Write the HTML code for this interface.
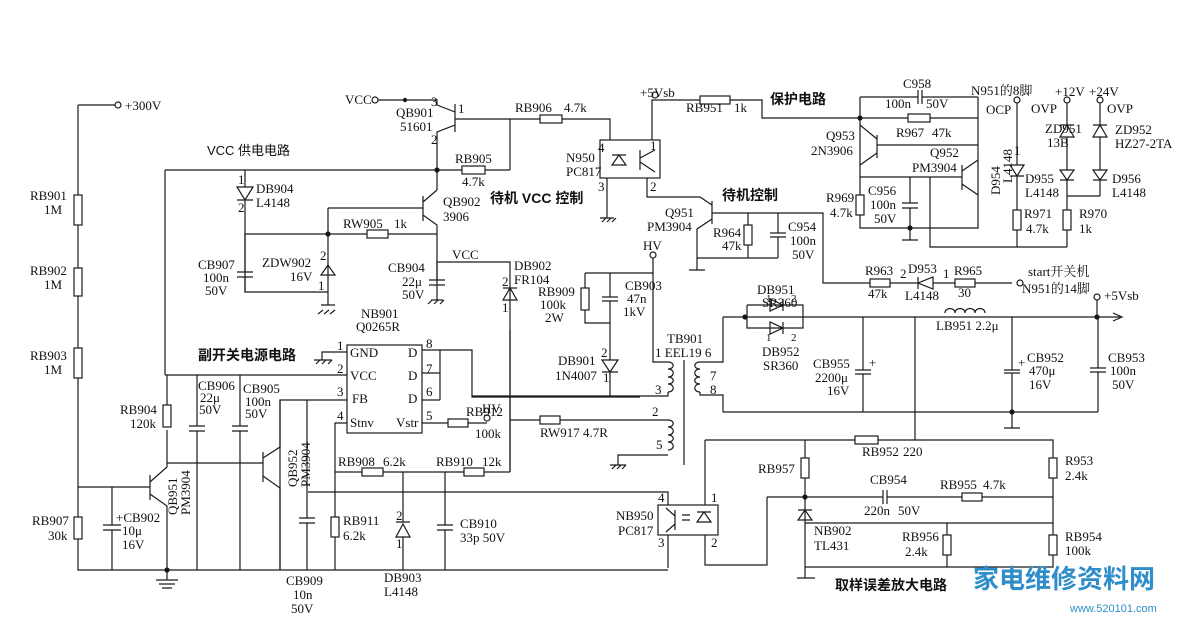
<!DOCTYPE html>
<html><head><meta charset="utf-8"><style>
html,body{margin:0;padding:0;background:#fff}
svg{display:block}
text{font-family:"Liberation Serif","Noto Serif CJK SC",serif;font-size:13px;fill:#111}
.c{font-family:"Liberation Sans","Noto Sans CJK SC",sans-serif;font-size:13px}
.b{font-family:"Liberation Sans","Noto Sans CJK SC",sans-serif;font-size:14px;font-weight:bold}
</style></head><body>
<svg width="1190" height="640" viewBox="0 0 1190 640" xmlns="http://www.w3.org/2000/svg">
<g stroke="#1a1a1a" stroke-width="1.2" fill="none">
<path d="M78 105H115M78 105V570H668M78 487H150"/>
<circle cx="118" cy="105" r="3"/>
<rect x="74" y="195" width="8" height="30" fill="#fff"/>
<rect x="74" y="268" width="8" height="28" fill="#fff"/>
<rect x="74" y="348" width="8" height="30" fill="#fff"/>
<rect x="74" y="517" width="8" height="22" fill="#fff"/>
<path d="M112 487V525M103 525H121M103 530H121M112 530V570"/>
<path d="M150 475V500M150 482L167 467V465M150 494L167 506V570"/>
<path d="M167 465V430M167 405V375"/>
<rect x="163" y="405" width="8" height="22" fill="#fff"/>
<path d="M165 170V375M165 375H347M167 463H263"/>
<path d="M156 580H178M159 584H175M162 588H172M167 570V580"/>
<circle cx="167" cy="570" r="2" fill="#111"/>
<path d="M165 170H510M245 170V187M237 187H253L245 200ZM237 200H253M245 200V292H328"/>
<path d="M245 234V272M237 272H253M237 277H253M245 277V292"/>
<path d="M328 208V305M321 275H335M328 265L321 275H335ZM321 305H335M323 310L318 314M329 310L324 314M335 310L330 314"/>
<path d="M245 234H367M388 234H437"/>
<rect x="367" y="230" width="21" height="8" fill="#fff"/>
<circle cx="328" cy="234" r="2" fill="#111"/>
<path d="M378 100H437V105L455 112M455 104V132M455 119H540M562 119H610V148M455 125L437 132V190"/>
<circle cx="375" cy="100" r="3"/><circle cx="405" cy="100" r="1.6" fill="#111"/>
<rect x="540" y="115" width="22" height="8" fill="#fff"/>
<path d="M510 119V170"/>
<rect x="462" y="166" width="23" height="8" fill="#fff"/>
<circle cx="437" cy="170" r="2" fill="#111"/>
<path d="M328 208H423M423 196V221M423 202L437 190M423 215L437 225V300M431 300H443M428 304L432 300M434 304L438 300M440 304L444 300"/>
<path d="M437 262V280M429 280H445M429 285H445"/>
<path d="M437 262H510V472M503 300H517L510 288ZM503 288H517"/>
<rect x="347" y="345" width="75" height="88" fill="#fff"/>
<path d="M347 352H322V360M314 360H332M316 364L320 360M322 364L326 360M328 364L332 360"/>
<path d="M347 400H280V570M307 400V518M299 518H315M299 523H315M307 523V570M347 423H335V517M335 537V570"/>
<rect x="331" y="517" width="8" height="20" fill="#fff"/>
<path d="M422 350H472V397H640M422 373H440M422 400H440M440 350V400M422 423H448M468 423H487"/>
<rect x="448" y="419" width="20" height="8" fill="#fff"/>
<circle cx="487" cy="418" r="3"/>
<path d="M197 375V426M189 426H205M189 431H205M197 431V570M240 375V426M232 426H248M232 431H248M240 431V570"/>
<path d="M263 452V482M263 458L280 447V400M263 476L280 488V570"/>
<path d="M335 472H362M383 472H464M484 472H510"/>
<rect x="362" y="468" width="21" height="8" fill="#fff"/>
<rect x="464" y="468" width="20" height="8" fill="#fff"/>
<path d="M403 472V522M396 537H410L403 524ZM396 522H410M403 537V570"/>
<path d="M445 472V525M437 525H453M437 530H453M445 530V570"/>
<path d="M308 492H668V505"/>
<rect x="600" y="140" width="60" height="38" fill="#fff"/>
<path d="M612 155H626M619 155L612 165H626Z"/>
<path d="M640 150V170M640 158L655 150M640 162L655 172"/>
<path d="M607 178V218M600 218H614M602 222L606 218M607 222L611 218M612 222L616 218"/>
<path d="M652 140V100H700M730 100H762V118H860"/>
<rect x="700" y="96" width="30" height="8" fill="#fff"/>
<circle cx="655" cy="95" r="3"/>
<path d="M647 178V197H700L712 205M712 201V224M712 213H823V283H870M712 219L697 229V270M689 270H705M697 258H778"/>
<path d="M748 213V225M748 245V258M778 213V233M770 233H786M770 237H786M778 237V258"/>
<rect x="744" y="225" width="8" height="20" fill="#fff"/>
<path d="M890 283H918M918 277V289M933 277V289L918 283ZM933 283H955M975 283H1012"/>
<rect x="870" y="279" width="20" height="8" fill="#fff"/>
<rect x="955" y="279" width="20" height="8" fill="#fff"/>
<circle cx="1020" cy="283" r="3"/>
<path d="M653 258V362H668M585 273H653M585 273V323H610M610 273V297M602 297H618M602 301H618M610 301V360M602 360H618L610 372ZM602 372H618M610 372V396"/>
<rect x="581" y="288" width="8" height="22" fill="#fff"/>
<circle cx="653" cy="255" r="3"/>
<path d="M668 362c7 0 7 7 0 7c7 0 7 8 0 8c7 0 7 7 0 7c7 0 7 8 0 8M472 396H668V392"/>
<path d="M700 362c-7 0 -7 7 0 7c-7 0 -7 8 0 8c-7 0 -7 7 0 7c-7 0 -7 8 0 8M700 362H723V317M700 392V395H723V412"/>
<path d="M684 360V465"/>
<path d="M668 420c7 0 7 7 0 7c7 0 7 8 0 8c7 0 7 7 0 7c7 0 7 8 0 8M668 420H560M540 420H510M510 330V472M668 455H618V465M610 465H626M612 469L616 465M617 469L621 465M622 469L626 465"/>
<rect x="540" y="416" width="20" height="8" fill="#fff"/>
<path d="M723 317H1120M747 305V328H803V305H747M770 299V311L783 305ZM783 299V311M770 322V334L783 328ZM783 322V334"/>
<path d="M1113 313L1122 317L1113 321"/>
<path d="M945 313c0 -6 10 -6 10 0c0 -6 10 -6 10 0c0 -6 10 -6 10 0c0 -6 10 -6 10 0" fill="#fff"/>
<circle cx="745" cy="317" r="2" fill="#111"/><circle cx="1097" cy="317" r="2" fill="#111"/>
<circle cx="1097" cy="297" r="3"/><path d="M1097 300V317"/>
<path d="M863 317V370M855 370H871M855 374H871M863 374V412M1012 317V370M1004 370H1020M1004 373H1020M1012 373V412M1098 317V368M1090 368H1106M1090 372H1106M1098 372V412M723 412H1098M1012 412V428M1004 428H1020"/>
<circle cx="1012" cy="412" r="2" fill="#111"/>
<path d="M915 317V440"/>
<path d="M860 97H918M922 97H978M918 90V104M922 90V104M860 97V228H978V97M860 118H908M930 118H978M877 135V158M877 145H978M877 139L860 125M877 153L860 165"/>
<rect x="908" y="114" width="22" height="8" fill="#fff"/>
<circle cx="860" cy="118" r="2" fill="#111"/>
<path d="M860 177H962M962 165V190M962 171L978 160M962 184L978 195M910 177V203M902 203H918M902 208H918M910 208V240M902 240H918M930 177V247H1067"/>
<rect x="856" y="195" width="8" height="20" fill="#fff"/>
<circle cx="910" cy="228" r="2" fill="#111"/>
<path d="M1017 103V165M1010 165H1024L1017 176ZM1010 176H1024M1017 176V210M1017 230V247"/>
<rect x="1013" y="210" width="8" height="20" fill="#fff"/>
<circle cx="1017" cy="100" r="3"/>
<path d="M1067 103V125M1060 137H1074L1067 125ZM1060 125H1074M1067 137V170M1060 170H1074L1067 180ZM1060 180H1074M1067 180V210M1067 230V247M1067 196H1100"/>
<rect x="1063" y="210" width="8" height="20" fill="#fff"/>
<circle cx="1067" cy="100" r="3"/>
<path d="M1100 103V125M1093 137H1107L1100 125ZM1093 125H1107M1100 137V170M1093 170H1107L1100 180ZM1093 180H1107M1100 180V196"/>
<circle cx="1100" cy="100" r="3"/>
<path d="M705 440H855M878 440H1053V458M1053 478V535M1053 555V567H805M805 440V458M805 478V578M797 578H815M767 497H883M887 497H962M982 497H1053M767 497V565H705V535M883 490V504M887 490V504"/>
<rect x="855" y="436" width="23" height="8" fill="#fff"/>
<rect x="801" y="458" width="8" height="20" fill="#fff"/>
<rect x="1049" y="458" width="8" height="20" fill="#fff"/>
<rect x="962" y="493" width="20" height="8" fill="#fff"/>
<rect x="943" y="535" width="8" height="20" fill="#fff"/>
<rect x="1049" y="535" width="8" height="20" fill="#fff"/>
<path d="M798 520H812L805 510ZM798 510H812M805 523H1053M947 523V535M947 555V567"/>
<circle cx="805" cy="497" r="2" fill="#111"/>
<rect x="658" y="505" width="60" height="30" fill="#fff"/>
<path d="M697 512H711M704 512L697 522H711ZM675 510V530M675 516L666 508M675 524L666 532M682 515L690 515M682 520L690 520"/>
<path d="M705 505V440M668 535V568"/>
</g>
<g>
<text x="125" y="110">+300V</text>
<text x="30" y="200">RB901</text><text x="44" y="214">1M</text>
<text x="30" y="275">RB902</text><text x="44" y="289">1M</text>
<text x="30" y="360">RB903</text><text x="44" y="374">1M</text>
<text x="32" y="525">RB907</text><text x="48" y="540">30k</text>
<text x="120" y="414">RB904</text><text x="130" y="428">120k</text>
<text x="116" y="522">+CB902</text><text x="122" y="535">10μ</text><text x="122" y="549">16V</text>
<text x="177" y="515" transform="rotate(-90 177 515)">QB951</text>
<text x="190" y="515" transform="rotate(-90 190 515)">PM3904</text>
<text x="207" y="155" class="c">VCC 供电电路</text>
<text x="345" y="104">VCC</text>
<text x="396" y="117">QB901</text><text x="400" y="131">51601</text>
<text x="431" y="106">3</text><text x="458" y="113">1</text><text x="431" y="144">2</text>
<text x="515" y="112">RB906</text><text x="564" y="112">4.7k</text>
<text x="455" y="163">RB905</text><text x="462" y="186">4.7k</text>
<text x="256" y="193">DB904</text><text x="256" y="207">L4148</text>
<text x="238" y="184">1</text><text x="238" y="212">2</text>
<text x="343" y="228">RW905</text><text x="394" y="228">1k</text>
<text x="443" y="206">QB902</text><text x="443" y="221">3906</text>
<text x="198" y="269">CB907</text><text x="203" y="282">100n</text><text x="205" y="295">50V</text>
<text x="262" y="267">ZDW902</text><text x="290" y="281">16V</text>
<text x="320" y="260">2</text><text x="318" y="290">1</text>
<text x="388" y="272">CB904</text><text x="402" y="286">22μ</text><text x="402" y="299">50V</text>
<text x="452" y="259">VCC</text>
<text x="514" y="270">DB902</text><text x="514" y="284">FR104</text>
<text x="502" y="286">2</text><text x="502" y="312">1</text>
<text x="361" y="318">NB901</text><text x="356" y="331">Q0265R</text>
<text x="350" y="357">GND</text><text x="350" y="380">VCC</text><text x="352" y="403">FB</text><text x="350" y="427">Stnv</text>
<text x="408" y="357">D</text><text x="408" y="380">D</text><text x="408" y="403">D</text><text x="396" y="427">Vstr</text>
<text x="337" y="350">1</text><text x="337" y="373">2</text><text x="337" y="396">3</text><text x="337" y="420">4</text>
<text x="426" y="348">8</text><text x="426" y="373">7</text><text x="426" y="396">6</text><text x="426" y="420">5</text>
<text x="198" y="360" class="b">副开关电源电路</text>
<text x="198" y="390">CB906</text><text x="200" y="402">22μ</text><text x="199" y="414">50V</text>
<text x="243" y="393">CB905</text><text x="245" y="406">100n</text><text x="245" y="418">50V</text>
<text x="297" y="487" transform="rotate(-90 297 487)">QB952</text>
<text x="310" y="487" transform="rotate(-90 310 487)">PM3904</text>
<text x="466" y="416">RB912</text><text x="482" y="413">HV</text><text x="475" y="438">100k</text>
<text x="338" y="466">RB908</text><text x="383" y="466">6.2k</text>
<text x="436" y="466">RB910</text><text x="482" y="466">12k</text>
<text x="343" y="525">RB911</text><text x="343" y="540">6.2k</text>
<text x="460" y="528">CB910</text><text x="460" y="542">33p 50V</text>
<text x="396" y="520">2</text><text x="396" y="548">1</text>
<text x="384" y="582">DB903</text><text x="384" y="596">L4148</text>
<text x="286" y="585">CB909</text><text x="293" y="599">10n</text><text x="291" y="613">50V</text>
<text x="640" y="97">+5Vsb</text>
<text x="686" y="112">RB951</text><text x="734" y="112">1k</text>
<text x="770" y="104" class="b">保护电路</text>
<text x="566" y="162">N950</text><text x="566" y="176">PC817</text>
<text x="598" y="152">4</text><text x="598" y="191">3</text><text x="650" y="150">1</text><text x="650" y="191">2</text>
<text x="490" y="203" class="b">待机 VCC 控制</text>
<text x="722" y="200" class="b">待机控制</text>
<text x="665" y="217">Q951</text><text x="647" y="231">PM3904</text>
<text x="713" y="237">R964</text><text x="722" y="250">47k</text>
<text x="788" y="231">C954</text><text x="790" y="245">100n</text><text x="792" y="259">50V</text>
<text x="643" y="250">HV</text>
<text x="538" y="296">RB909</text><text x="540" y="309">100k</text><text x="545" y="322">2W</text>
<text x="625" y="290">CB903</text><text x="627" y="303">47n</text><text x="623" y="316">1kV</text>
<text x="601" y="357">2</text><text x="603" y="382">1</text>
<text x="558" y="365">DB901</text><text x="555" y="380">1N4007</text>
<text x="667" y="343">TB901</text><text x="655" y="357">1 EEL19 6</text>
<text x="655" y="394">3</text><text x="710" y="380">7</text><text x="710" y="394">8</text>
<text x="652" y="416">2</text><text x="656" y="449">5</text>
<text x="540" y="437">RW917 4.7R</text>
<text x="757" y="294">DB951</text><text x="762" y="307">SR360</text>
<text x="766" y="302" style="font-size:11px">1</text><text x="791" y="302" style="font-size:11px">2</text>
<text x="766" y="341" style="font-size:11px">1</text><text x="791" y="341" style="font-size:11px">2</text>
<text x="762" y="356">DB952</text><text x="763" y="370">SR360</text>
<text x="936" y="330">LB951 2.2μ</text>
<text x="1104" y="300">+5Vsb</text>
<text x="813" y="368">CB955</text><text x="815" y="382">2200μ</text><text x="827" y="395">16V</text>
<text x="869" y="367">+</text><text x="1018" y="367">+</text>
<text x="1027" y="362">CB952</text><text x="1029" y="375">470μ</text><text x="1029" y="389">16V</text>
<text x="1108" y="362">CB953</text><text x="1110" y="375">100n</text><text x="1112" y="389">50V</text>
<text x="903" y="88">C958</text><text x="885" y="108">100n</text><text x="926" y="108">50V</text>
<text x="971" y="95">N951的8脚</text>
<text x="986" y="114">OCP</text><text x="1031" y="113">OVP</text><text x="1107" y="113">OVP</text>
<text x="1055" y="96">+12V</text><text x="1089" y="96">+24V</text>
<text x="896" y="137">R967</text><text x="932" y="137">47k</text>
<text x="826" y="140">Q953</text><text x="811" y="155">2N3906</text>
<text x="930" y="157">Q952</text><text x="912" y="172">PM3904</text>
<text x="868" y="195">C956</text><text x="870" y="209">100n</text><text x="874" y="223">50V</text>
<text x="826" y="202">R969</text><text x="830" y="217">4.7k</text>
<text x="1000" y="195" transform="rotate(-90 1000 195)">D954</text>
<text x="1012" y="183" transform="rotate(-90 1012 183)">L4148</text>
<text x="1014" y="155">1</text>
<text x="1045" y="133">ZD951</text><text x="1047" y="147">13B</text>
<text x="1115" y="134">ZD952</text><text x="1115" y="148">HZ27-2TA</text>
<text x="1025" y="183">D955</text><text x="1025" y="197">L4148</text>
<text x="1112" y="183">D956</text><text x="1112" y="197">L4148</text>
<text x="1024" y="218">R971</text><text x="1026" y="233">4.7k</text>
<text x="1079" y="218">R970</text><text x="1079" y="233">1k</text>
<text x="865" y="275">R963</text><text x="868" y="298">47k</text>
<text x="900" y="278">2</text><text x="943" y="278">1</text>
<text x="908" y="273">D953</text><text x="905" y="300">L4148</text>
<text x="954" y="275">R965</text><text x="958" y="297">30</text>
<text x="1028" y="276">start开关机</text><text x="1022" y="293">N951的14脚</text>
<text x="862" y="456">RB952</text><text x="903" y="456">220</text>
<text x="758" y="473">RB957</text>
<text x="1065" y="465">R953</text><text x="1065" y="480">2.4k</text>
<text x="870" y="484">CB954</text><text x="864" y="515">220n</text><text x="898" y="515">50V</text>
<text x="940" y="489">RB955</text><text x="983" y="489">4.7k</text>
<text x="1065" y="541">RB954</text><text x="1065" y="555">100k</text>
<text x="902" y="541">RB956</text><text x="905" y="556">2.4k</text>
<text x="814" y="535">NB902</text><text x="814" y="550">TL431</text>
<text x="616" y="520">NB950</text><text x="618" y="535">PC817</text>
<text x="658" y="502">4</text><text x="658" y="547">3</text><text x="711" y="502">1</text><text x="711" y="547">2</text>
<text x="835" y="590" class="b">取样误差放大电路</text>
<text x="973" y="588" class="c" style="font-size:26px;fill:#2f8ec9;font-weight:bold">家电维修资料网</text>
<text x="1070" y="612" class="c" style="font-size:11px;fill:#2f8ec9">www.520101.com</text>
</g>
</svg>
</body></html>
